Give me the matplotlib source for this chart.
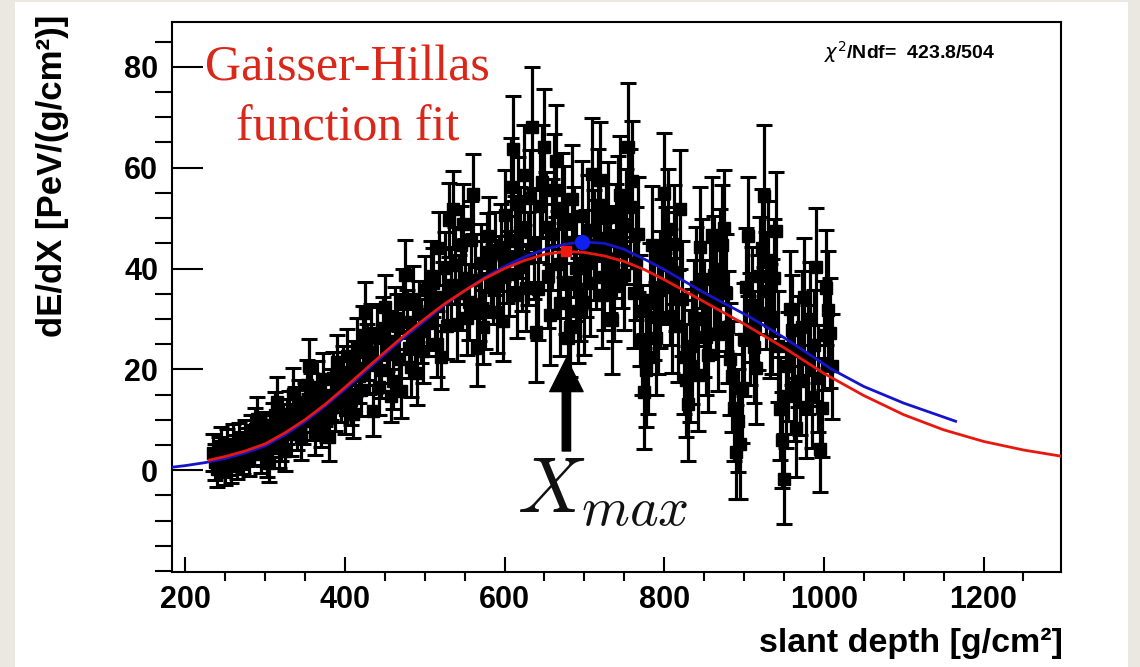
import matplotlib
matplotlib.use('Agg')
import matplotlib.pyplot as plt
from matplotlib.patches import Rectangle
from matplotlib.ticker import MultipleLocator

# slant depth of each measured bin [g/cm2]
depth = [235, 237.5, 240, 242.5, 245, 247.5, 250, 252.5, 255, 257.5,
         260, 262.5, 265, 267.5, 270, 272.5, 275, 277.5, 280, 282.5,
         285, 287.5, 290, 292.5, 295, 297.5, 300, 302.5, 305, 307.5,
         310, 312.5, 315, 317.5, 320, 322.5, 325, 327.5, 330, 332.5,
         335, 337.5, 340, 342.5, 345, 347.5, 350, 352.5, 355, 357.5,
         360, 362.5, 365, 367.5, 370, 372.5, 375, 377.5, 380, 382.5,
         385, 387.5, 390, 392.5, 395, 397.5, 400, 402.5, 405, 407.5,
         410, 412.5, 415, 417.5, 420, 422.5, 425, 427.5, 430, 432.5,
         435, 437.5, 440, 442.5, 445, 447.5, 450, 452.5, 455, 457.5,
         460, 462.5, 465, 467.5, 470, 472.5, 475, 477.5, 480, 482.5,
         485, 487.5, 490, 492.5, 495, 497.5, 500, 502.5, 505, 507.5,
         510, 512.5, 515, 517.5, 520, 522.5, 525, 527.5, 530, 532.5,
         535, 537.5, 540, 542.5, 545, 547.5, 550, 552.5, 555, 557.5,
         560, 562.5, 565, 567.5, 570, 572.5, 575, 577.5, 580, 582.5,
         585, 587.5, 590, 592.5, 595, 597.5, 600, 602.5, 605, 607.5,
         610, 612.5, 615, 617.5, 620, 622.5, 625, 627.5, 630, 632.5,
         635, 637.5, 640, 642.5, 645, 647.5, 650, 652.5, 655, 657.5,
         660, 662.5, 665, 667.5, 670, 672.5, 675, 677.5, 680, 682.5,
         685, 687.5, 690, 692.5, 695, 697.5, 700, 702.5, 705, 707.5,
         710, 712.5, 715, 717.5, 720, 722.5, 725, 727.5, 730, 732.5,
         735, 737.5, 740, 742.5, 745, 747.5, 750, 752.5, 755, 757.5,
         760, 762.5, 765, 767.5, 770, 772.5, 775, 777.5, 780, 782.5,
         785, 787.5, 790, 792.5, 795, 797.5, 800, 802.5, 805, 807.5,
         810, 812.5, 815, 817.5, 820, 822.5, 825, 827.5, 830, 832.5,
         835, 837.5, 840, 842.5, 845, 847.5, 850, 852.5, 855, 857.5,
         860, 862.5, 865, 867.5, 870, 872.5, 875, 877.5, 880, 882.5,
         885, 887.5, 890, 892.5, 895, 897.5, 900, 902.5, 905, 907.5,
         910, 912.5, 915, 917.5, 920, 922.5, 925, 927.5, 930, 932.5,
         935, 937.5, 940, 942.5, 945, 947.5, 950, 952.5, 955, 957.5,
         960, 962.5, 965, 967.5, 970, 972.5, 975, 977.5, 980, 982.5,
         985, 987.5, 990, 992.5, 995, 997.5, 1000, 1002.5, 1005, 1007.5,
         1010]

# energy deposit dE/dX [PeV/(g/cm2)]
dedx = [3.5, 1.6, 0.2, 3.0, 4.8, 2.2, 0.5, 4.4, 2.6, 0.9,
        5.2, 3.4, 1.8, 5.6, 3.9, 2.8, 6.0, 4.6, 2.4, 7.0,
        5.0, 8.2, 10.2, 6.4, 3.2, 4.9, 7.4, 2.6, 1.5, 6.8,
        9.0, 11.0, 13.6, 4.4, 6.1, 8.8, 3.8, 9.6, 11.2, 7.2,
        15.2, 11.6, 8.6, 13.0, 6.5, 9.8, 12.4, 16.8, 20.6, 14.2,
        10.8, 7.6, 16.5, 12.2, 9.2, 18.0, 13.8, 10.4, 6.6, 15.0,
        18.2, 12.8, 21.4, 16.6, 14.6, 19.4, 12.0, 22.6, 17.8, 14.0,
        11.2, 20.2, 24.5, 18.6, 16.0, 26.8, 31.2, 23.4, 20.8, 27.2,
        11.8, 21.0, 26.4, 16.4, 19.8, 28.2, 32.4, 25.6, 23.0, 14.8,
        17.6, 30.2, 28.8, 22.0, 15.8, 33.6, 38.8, 29.4, 24.2, 20.4,
        34.0, 26.2, 19.2, 31.0, 27.6, 23.6, 35.8, 29.2, 30.4, 38.6,
        37.2, 32.6, 25.0, 44.0, 22.4, 34.4, 40.2, 28.6, 49.6, 36.8,
        51.8, 40.6, 29.0, 35.2, 44.6, 48.8, 38.2, 30.2, 33.4, 45.6,
        54.8, 37.8, 24.2, 33.0, 41.0, 28.4, 31.6, 43.2, 46.4, 38.0,
        36.8, 43.0, 31.4, 38.4, 44.2, 29.6, 50.6, 41.8, 39.0, 56.2,
        63.8, 45.4, 34.8, 52.8, 47.2, 40.4, 58.6, 36.2, 42.0, 54.0,
        68.0, 44.8, 27.4, 36.0, 52.4, 57.2, 64.2, 48.2, 38.6, 30.8,
        46.8, 55.6, 61.4, 40.8, 33.2, 52.0, 49.4, 37.4, 26.2, 28.4,
        53.8, 45.2, 40.2, 31.6, 36.0, 50.4, 33.4, 41.0, 47.6, 37.2,
        58.8, 44.6, 42.8, 52.6, 57.6, 34.8, 38.4, 46.0, 50.2, 41.8,
        29.8, 36.6, 45.4, 50.8, 54.6, 43.4, 38.8, 48.4, 64.2, 52.2,
        57.4, 35.2, 41.0, 46.8, 31.6, 25.8, 15.6, 19.8, 22.4, 33.8,
        44.6, 33.2, 26.2, 30.4, 35.8, 42.0, 55.0, 40.6, 47.8, 36.4,
        30.6, 44.8, 39.4, 28.6, 51.8, 34.0, 22.4, 17.8, 13.2, 20.6,
        24.6, 30.2, 36.4, 18.8, 44.2, 38.0, 30.0, 26.4, 22.8, 33.6,
        46.6, 38.8, 34.2, 27.0, 40.0, 44.6, 48.0, 35.2, 28.4, 22.0,
        18.6, 12.4, 3.6, 9.8, 5.2, 16.2, 26.0, 36.4, 46.4, 28.0,
        32.8, 24.4, 20.2, 31.2, 38.6, 44.0, 54.4, 35.6, 41.6, 29.6,
        30.4, 38.2, 47.4, 24.6, 12.2, 6.0, -1.8, 14.8, 20.6, 32.0,
        27.8, 16.4, 8.4, 23.6, 17.6, 28.4, 34.4, 12.6, 22.0, 30.0,
        14.6, 24.8, 40.4, 18.2, 4.2, 12.4, 26.8, 36.2, 31.8, 27.2,
        20.6]

err = [3.6, 3.5, 3.6, 3.6, 3.8, 3.5, 3.4, 3.7, 3.6, 3.4,
       3.9, 3.6, 3.5, 3.8, 3.7, 3.6, 4.0, 3.7, 3.6, 3.9,
       4.0, 4.2, 4.4, 4.1, 3.8, 4.0, 4.2, 3.9, 3.9, 4.2,
       4.4, 4.5, 4.8, 4.0, 4.2, 4.4, 4.0, 4.5, 4.6, 4.3,
       5.0, 4.8, 4.6, 4.9, 4.5, 4.7, 4.9, 5.1, 5.4, 5.0,
       4.8, 4.6, 5.2, 4.9, 4.7, 5.2, 5.0, 4.8, 4.8, 5.1,
       5.2, 5.0, 5.4, 5.1, 5.0, 5.3, 4.9, 5.5, 5.3, 5.0,
       4.9, 5.4, 5.7, 5.3, 5.2, 5.8, 6.1, 5.6, 5.6, 5.8,
       5.1, 5.7, 6.0, 5.4, 5.5, 6.1, 6.3, 5.9, 5.8, 5.3,
       5.4, 6.2, 6.2, 5.7, 5.5, 6.4, 6.8, 6.3, 5.9, 5.8,
       6.5, 6.4, 6.3, 6.6, 6.4, 6.3, 6.7, 6.5, 6.6, 6.9,
       6.9, 6.7, 6.5, 7.2, 6.3, 6.8, 7.1, 6.6, 7.4, 7.0,
       7.5, 7.6, 7.4, 7.4, 7.8, 7.9, 7.6, 7.3, 7.5, 7.8,
       7.9, 7.6, 7.5, 7.4, 7.8, 7.3, 7.6, 7.8, 7.7, 7.6,
       7.8, 8.3, 8.2, 8.0, 8.6, 7.9, 8.9, 8.7, 8.4, 9.6,
       10.4, 9.0, 8.5, 9.4, 9.0, 8.8, 9.9, 8.6, 9.2, 9.6,
       12.0, 10.8, 10.0, 10.2, 11.2, 11.2, 11.4, 10.9, 10.4, 10.0,
       11.0, 11.0, 11.1, 10.6, 10.6, 11.0, 11.0, 10.4, 9.8, 10.0,
       10.8, 10.9, 10.6, 10.4, 10.4, 11.0, 10.6, 10.7, 11.0, 10.5,
       11.1, 10.9, 10.8, 11.1, 11.5, 10.5, 10.6, 10.8, 11.0, 10.7,
       10.8, 11.0, 11.3, 11.5, 11.6, 11.2, 11.0, 11.4, 12.6, 11.6,
       11.9, 11.0, 11.2, 11.4, 11.0, 10.9, 11.4, 11.2, 11.2, 11.2,
       11.8, 11.4, 11.2, 11.3, 11.6, 11.7, 11.9, 11.6, 12.0, 11.5,
       11.4, 11.8, 11.8, 11.2, 11.8, 11.4, 11.3, 11.2, 11.4, 11.1,
       11.4, 11.5, 11.8, 11.0, 12.0, 11.8, 11.6, 11.4, 11.3, 11.6,
       11.6, 11.7, 11.5, 11.3, 11.8, 11.9, 11.6, 11.6, 11.2, 11.1,
       11.0, 10.6, 9.4, 10.2, 10.9, 10.8, 11.2, 11.6, 11.8, 11.2,
       11.4, 11.1, 11.0, 11.4, 11.6, 11.8, 14.1, 11.6, 11.8, 11.3,
       11.4, 11.6, 11.8, 11.0, 10.2, 9.6, 8.9, 10.4, 10.8, 11.4,
       11.0, 10.6, 9.8, 11.0, 10.6, 11.2, 11.7, 10.2, 10.8, 11.2,
       10.2, 11.0, 11.6, 10.6, 8.6, 9.8, 10.8, 11.4, 11.6, 11.0,
       10.4]

# Gaisser-Hillas fit (red) and reference profile (blue)
red_x = [230, 250, 275, 300, 325, 350, 375, 400, 425, 450, 475, 500, 525, 550,
         575, 600, 625, 650, 677, 700, 725, 750, 775, 800, 850, 900, 950, 1000,
         1050, 1100, 1150, 1200, 1250, 1300]
red_y = [2.0, 2.7, 3.8, 5.2, 7.4, 10.0, 13.0, 16.4, 19.9, 23.4, 26.8, 30.0, 33.0,
         35.6, 38.0, 40.0, 41.6, 42.8, 43.4, 43.2, 42.5, 41.4, 39.8, 37.8, 33.4,
         29.0, 24.3, 19.2, 14.8, 11.0, 8.0, 5.7, 4.0, 2.7]
blue_x = [184, 200, 225, 250, 275, 300, 325, 350, 375, 400, 425, 450, 475, 500,
          525, 550, 575, 600, 625, 650, 675, 697, 725, 750, 781, 800, 850, 906,
          950, 1010, 1050, 1100, 1165]
blue_y = [0.6, 0.9, 1.5, 2.3, 3.4, 4.8, 7.0, 9.6, 12.7, 16.0, 19.5, 23.0, 26.4,
          29.6, 32.8, 35.6, 38.2, 40.4, 42.3, 43.8, 44.8, 45.3, 45.0, 43.8, 41.4,
          39.8, 35.2, 30.5, 26.3, 20.0, 16.6, 13.3, 9.7]
red_peak = (677, 43.4)
blue_peak = (697, 45.3)

fig = plt.figure(figsize=(11.4, 6.67), dpi=100, facecolor='#ebe8e1')
fig.patches.append(Rectangle((15 / 1140, 0), 1113 / 1140, 665 / 667,
                             transform=fig.transFigure, facecolor='white',
                             edgecolor='none', zorder=-10))
ax = fig.add_axes([172 / 1140, 1 - 572 / 667, 889 / 1140, 550 / 667])
ax.set_zorder(1)

ax.errorbar(depth, dedx, yerr=err, fmt='s', color='black', ms=8,
            elinewidth=2.3, capsize=5.5, capthick=2.2, zorder=2)
ax.plot(blue_x, blue_y, color='#1414c8', lw=2.0, zorder=3)
ax.plot(red_x, red_y, color='#e8180f', lw=2.0, zorder=4)
ax.plot(*red_peak, 's', color='#ee1a10', ms=7.5, zorder=5)
ax.plot(*blue_peak, 'o', color='#1020f0', ms=10, zorder=5)

ax.set_xlim(183.5, 1297)
ax.set_ylim(-20.2, 88.9)
ax.set_xticks([200, 400, 600, 800, 1000, 1200])
ax.xaxis.set_minor_locator(MultipleLocator(50))
ax.set_yticks([0, 20, 40, 60, 80])
ax.yaxis.set_minor_locator(MultipleLocator(5))
ax.tick_params(direction='in', top=False, right=False, width=1.5,
               labelsize=22, colors='black')
ax.tick_params(axis='y', which='major', length=22, pad=10)
ax.tick_params(axis='y', which='minor', length=12, width=1.5)
ax.tick_params(axis='x', which='major', length=11, pad=9)
ax.tick_params(axis='x', which='minor', length=6.5, width=1.5)
for lab in ax.get_xticklabels() + ax.get_yticklabels():
    lab.set_fontfamily('Liberation Sans')
    lab.set_fontweight('bold')
for sp in ax.spines.values():
    sp.set_linewidth(1.5)

fig.text(53 / 1140, 1 - 15 / 667, 'dE/dX [PeV/(g/cm²)]', rotation=90,
         ha='center', va='top', fontsize=25, fontweight='bold',
         family='Liberation Sans')
fig.text(1063 / 1140, 1 - 652 / 667, 'slant depth [g/cm²]', ha='right',
         va='baseline', fontsize=24.5, fontweight='bold', family='Liberation Sans')
ax.text(0.830, 0.945, r'$\chi^{2}$/Ndf=  423.8/504', transform=ax.transAxes,
        ha='center', va='center', fontsize=14, fontweight='bold',
        family='Liberation Sans')

ax.text(403.5, 73.8, 'Gaisser-Hillas\nfunction fit', ha='center', va='center',
        fontsize=36, color='#d9271a', family='Liberation Serif',
        linespacing=1.38, multialignment='center')

ax.annotate('', xy=(677.5, 22.2), xytext=(677.5, 3.8),
            arrowprops=dict(arrowstyle='simple,head_length=1.2,head_width=1.2,tail_width=0.3',
                            mutation_scale=20, color='black', shrinkA=0, shrinkB=0),
            zorder=6)
ax.text(722.5, -8.5, r'$X_{max}$', ha='center', va='baseline', fontsize=56,
        math_fontfamily='cm', color='#111111')

fig.savefig('out.png', dpi=100, facecolor=fig.get_facecolor())
